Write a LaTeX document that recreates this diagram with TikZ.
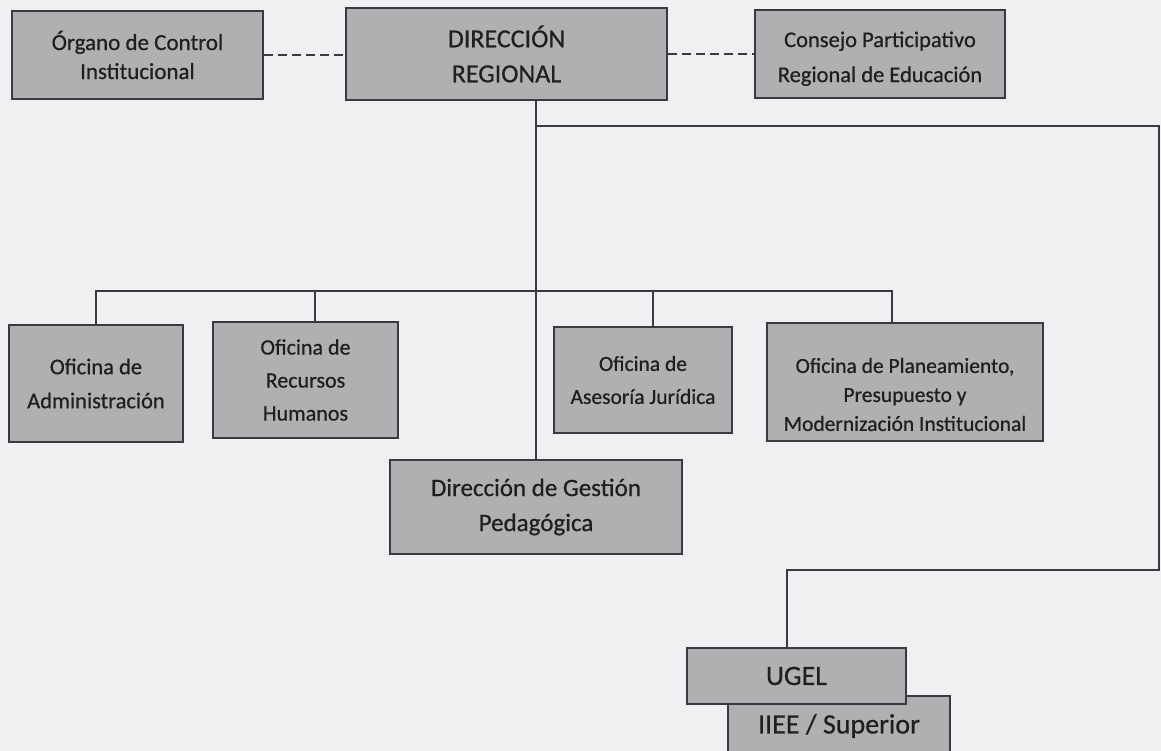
\documentclass[tikz,border=0pt]{standalone}
\usepackage{fontspec}
\setmainfont{Carlito}[UprightFeatures={FakeBold=0.6}]
\usepackage{xcolor}
\usetikzlibrary{positioning, calc}
\definecolor{paper}{HTML}{F1EFF1}
\definecolor{boxgray}{HTML}{B0AFB1}
\definecolor{ink}{HTML}{3A3A40}
\newcommand{\fs}[2]{\fontsize{#1}{#2}\selectfont}
\newcommand{\padtop}[1]{\rule{0pt}{#1}}

\begin{document}
\begin{tikzpicture}[x=1pt, y=-1pt,
  unit/.style={draw=ink, line width=1.4pt, fill=boxgray, align=center,
    inner sep=0pt, text=black!88, font=\fs{22}{30}},
  link/.style={draw=ink, line width=1.2pt},
  aux/.style={link, dash pattern=on 9pt off 5pt}]
\useasboundingbox (0,0) rectangle (1161,751);
\fill[paper] (0,0) rectangle (1161,751);
\clip (0,0) rectangle (1161,751);
% top row
\node[unit, minimum width=251pt, minimum height=88pt, font=\fs{23}{29}] (oci) at (137.5,55)
  {Órgano de Control\\Institucional};
\node[unit, minimum width=321pt, minimum height=92pt, font=\fs{26}{35}] (dir) at (506.5,54)
  {DIRECCIÓN\\REGIONAL};
\node[unit, minimum width=250pt, minimum height=88pt, font=\fs{22.5}{35}] (cpr) at (880,54)
  {\padtop{25pt}Consejo Participativo\\Regional de Educación};
\draw[aux] (oci.east) -- (oci.east -| dir.west);
\draw[aux] (dir.east |- cpr.west) -- (cpr.west);
% offices
\node[unit, minimum width=174pt, minimum height=117pt, font=\fs{22.5}{34}] (adm) at (96,383.5)
  {Oficina de\\Administración};
\node[unit, minimum width=185pt, minimum height=116pt, font=\fs{22}{33}] (rrhh) at (305.5,380)
  {Oficina de\\Recursos\\Humanos};
\node[unit, minimum width=178pt, minimum height=106pt, font=\fs{21.5}{33}] (ajur) at (643,380)
  {Oficina de\\Asesoría Jurídica};
\node[unit, minimum width=276pt, minimum height=118pt, font=\fs{21.5}{29}] (ppmi) at (905,382)
  {\padtop{40pt}Oficina de Planeamiento,\\Presupuesto y\\Modernización Institucional};
% line
\node[unit, minimum width=292pt, minimum height=94pt, font=\fs{25}{35}] (dgp) at (536,507)
  {Dirección de Gestión\\Pedagógica};
\node[unit, minimum width=222pt, minimum height=60pt, font=\fs{28}{30}] (iiee) at (839,726)
  {IIEE / Superior};
\node[unit, minimum width=219pt, minimum height=56pt, font=\fs{28}{30}] (ugel) at (796.5,676)
  {UGEL};
% connectors
\coordinate (busW) at (96,291);
\coordinate (busE) at (892,291);
\coordinate (loopN) at (1159,126);
\coordinate (loopS) at (1159,570);
\draw[link] (dgp.north |- dir.south) -- (dgp.north);
\draw[link] (adm.north) -- (busW) -- (busE) -- (busE |- ppmi.north);
\draw[link] ([xshift=9.5pt]rrhh.north) -- ([xshift=9.5pt]rrhh.north |- busW);
\draw[link] ([xshift=10pt]ajur.north) -- ([xshift=10pt]ajur.north |- busW);
\draw[link] (dgp.north |- loopN) -- (loopN) -- (loopS)
  -- ([xshift=-9.5pt]ugel.north |- loopS) -- ([xshift=-9.5pt]ugel.north);
\end{tikzpicture}
\end{document}
